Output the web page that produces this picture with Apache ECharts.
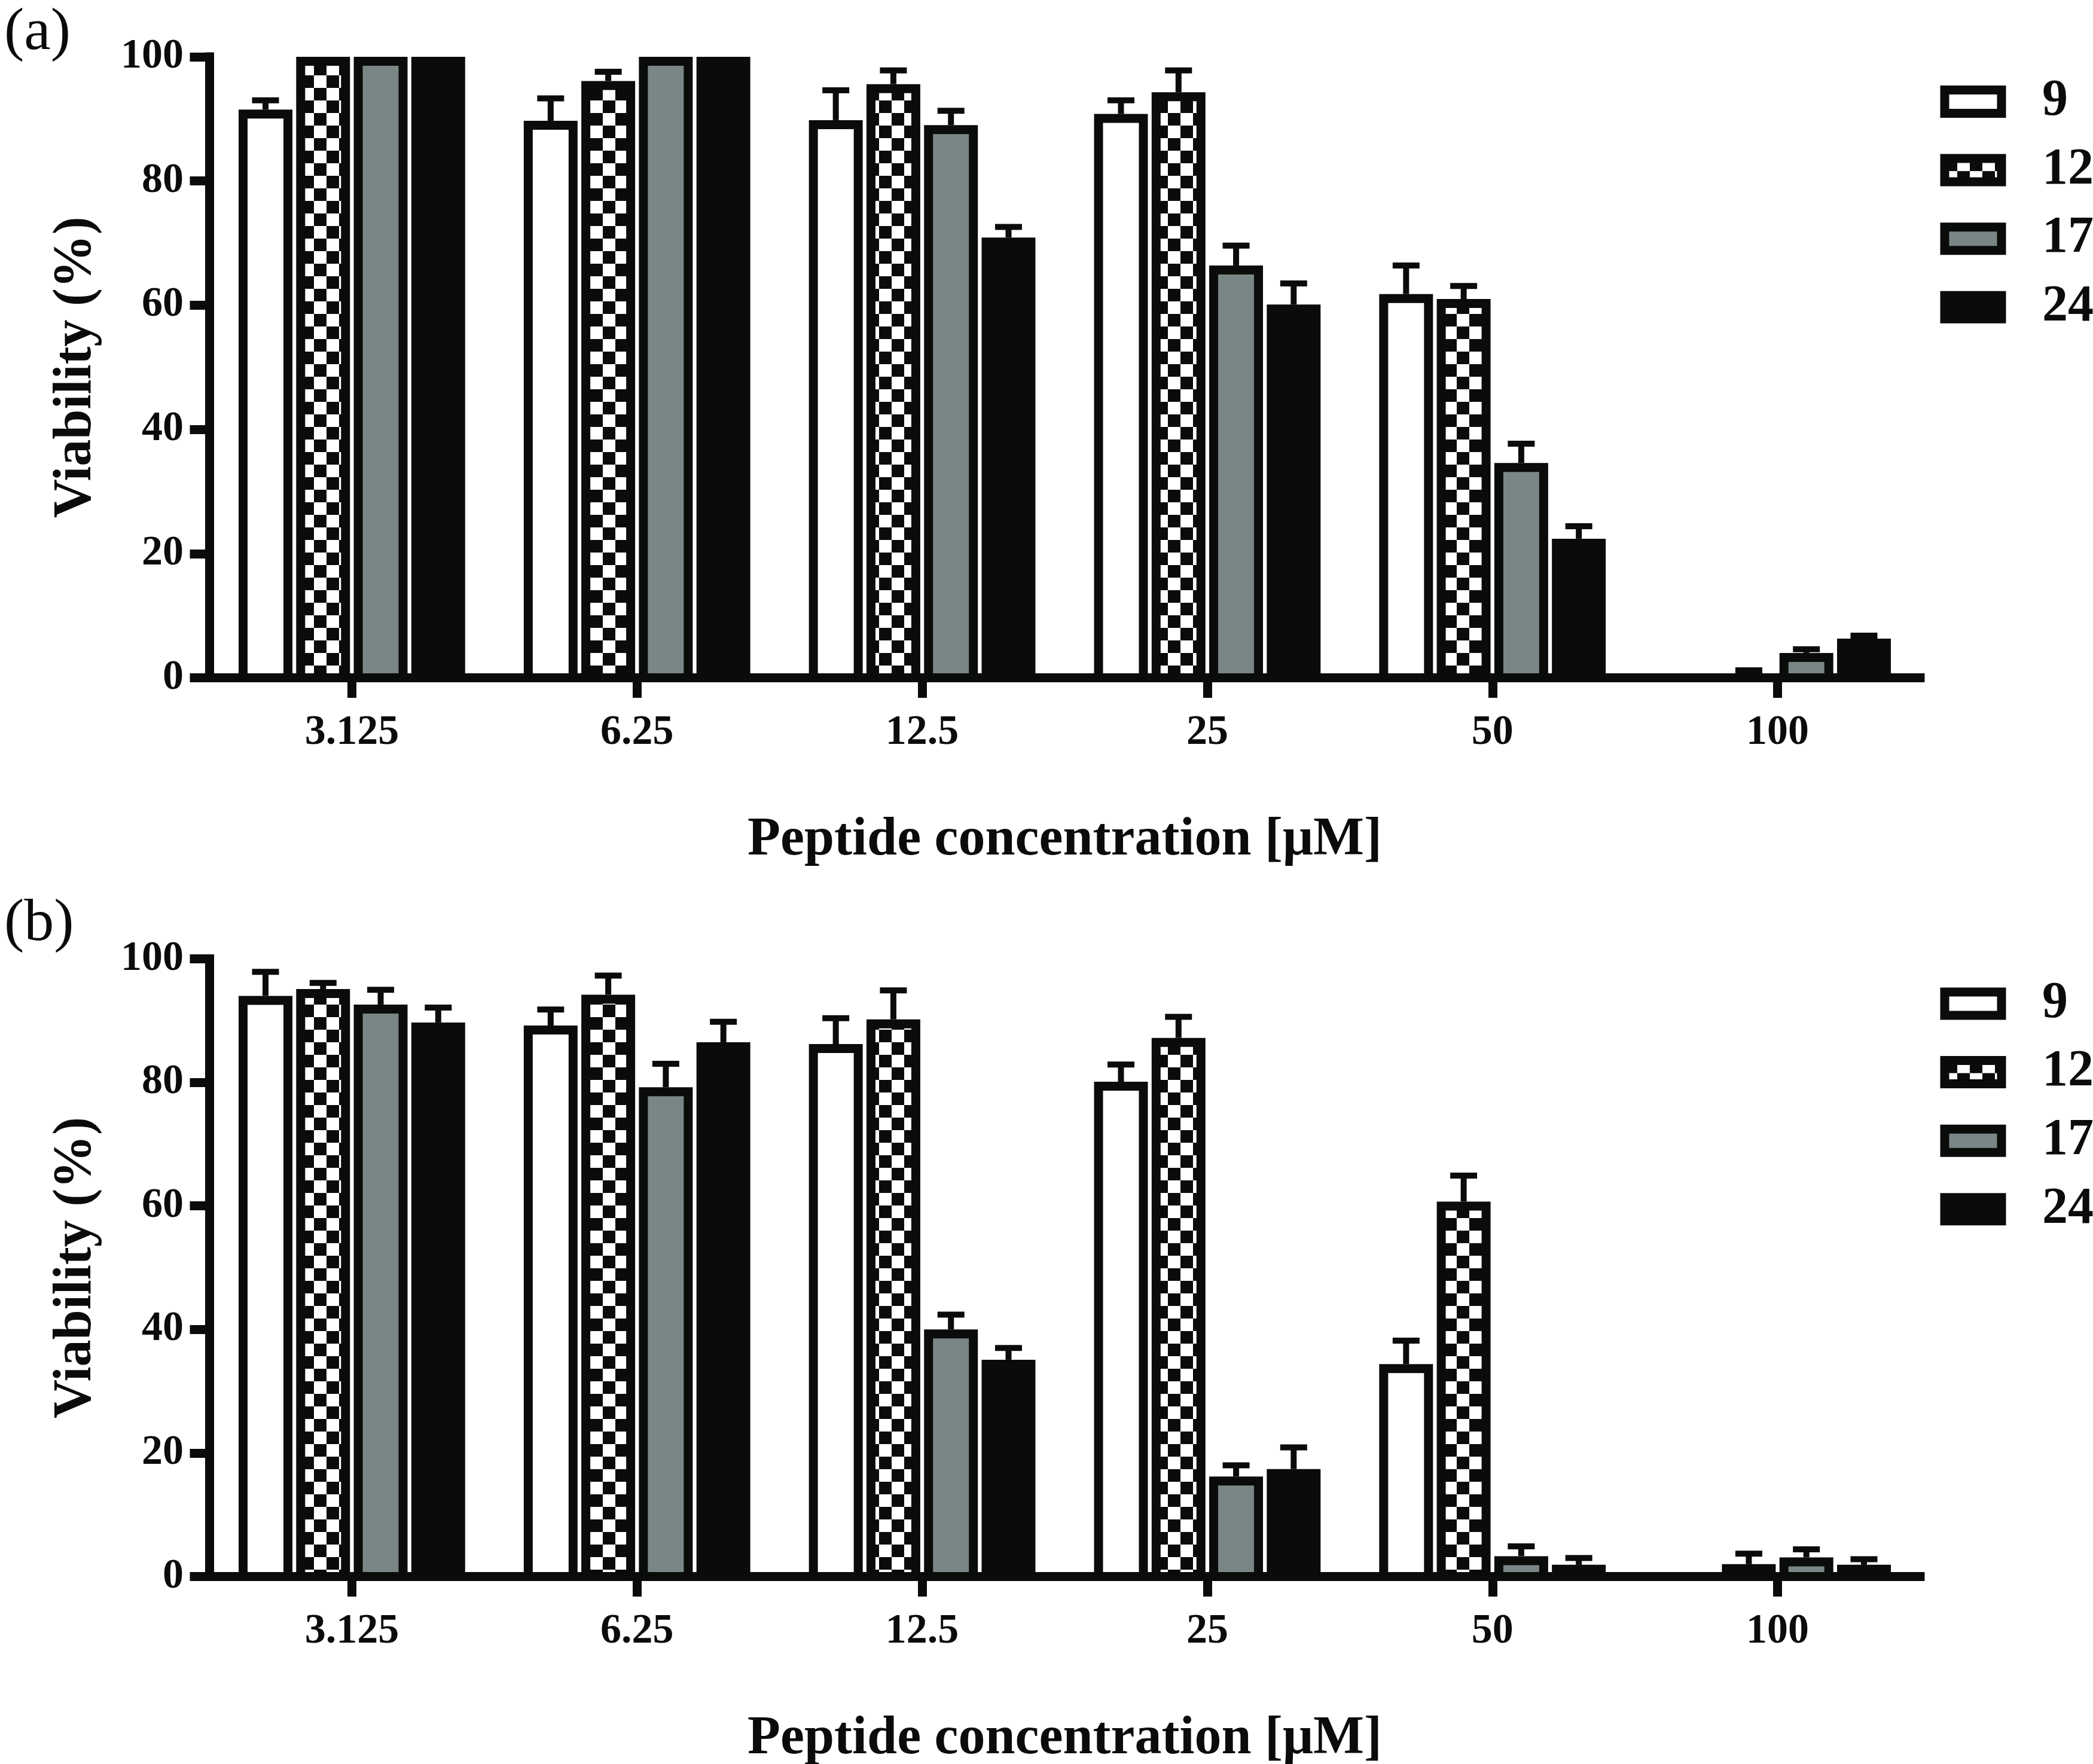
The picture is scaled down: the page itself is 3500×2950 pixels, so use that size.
<!DOCTYPE html>
<html>
<head>
<meta charset="utf-8">
<script src="https://cdn.jsdelivr.net/npm/echarts@6/dist/echarts.min.js"></script>
<style>
html,body{margin:0;padding:0;background:#ffffff;}
#chart{width:3500px;height:2950px;}
</style>
</head>
<body>
<div id="chart"></div>
<script>
// ---------- data ----------
const categories = ['3.125', '6.25', '12.5', '25', '50', '100'];
const seriesNames = ['9', '12', '17', '24'];
const yTickValues = [0, 20, 40, 60, 80, 100];

// panel (a)
const a9 = [91.5, 89.7, 89.8, 90.8, 61.8, 0.3];
const a9Err = [1.5, 3.6, 4.8, 2.2, 4.6, 0];
const a12 = [100, 96.1, 95.6, 94.3, 61.0, 0.5];
const a12Err = [0, 1.5, 2.2, 3.5, 2.1, 0.7];
const a17 = [100, 100, 89.0, 66.4, 34.6, 4.0];
const a17Err = [0, 0, 2.3, 3.2, 3.1, 0.6];
const a24 = [100, 100, 70.9, 60.1, 22.4, 6.3];
const a24Err = [0, 0, 1.7, 3.4, 2.0, 0.5];

// panel (b)
const b9 = [94.0, 89.2, 86.2, 80.1, 34.4, 0.3];
const b9Err = [3.9, 2.6, 4.2, 2.8, 3.8, 0];
const b12 = [95.1, 94.2, 90.2, 87.2, 60.7, 2.0];
const b12Err = [1.0, 3.1, 4.7, 3.4, 4.2, 1.7];
const b17 = [92.6, 79.2, 40.0, 16.2, 3.3, 3.1];
const b17Err = [2.4, 3.8, 2.4, 1.8, 1.6, 1.3];
const b24 = [89.7, 86.5, 35.1, 17.4, 1.9, 1.9];
const b24Err = [2.4, 3.3, 1.9, 3.5, 1.1, 0.9];

// ---------- styles ----------
const BLACK = '#0a0c0a';
const GRAY = '#798685';
const FONT = '"Liberation Serif", "Times New Roman", serif';
const BORDER = 15;          // bar outline
const BAR_W = 0.1887;       // bar outer width as a fraction of the category band
const BAR_PITCH = 0.2019;   // bar-to-bar distance as a fraction of the band
const ERR_W = 10;
const CAP = 45;

function checkerCanvas() {
  const s = 21;
  const c = document.createElement('canvas');
  c.width = 2 * s; c.height = 2 * s;
  const g = c.getContext('2d');
  g.fillStyle = '#ffffff'; g.fillRect(0, 0, 2 * s, 2 * s);
  g.fillStyle = BLACK; g.fillRect(0, 0, s, s); g.fillRect(s, s, s, s);
  return c;
}
const checker = { image: checkerCanvas(), repeat: 'repeat' };
const FILLS = ['#ffffff', checker, GRAY, BLACK];

function makeRender(idx, fill) {
  return function (params, api) {
    const ci = api.value(0), v = api.value(1), e = api.value(2);
    const band = api.size([1, 0])[0];
    const base = api.coord([ci, 0]);
    const top = api.coord([ci, v]);
    const cx = base[0] + (idx - 1.5) * band * BAR_PITCH;
    const w = band * BAR_W;
    const h = base[1] - top[1];
    const children = [{
      type: 'rect',
      shape: { x: cx - w / 2, y: top[1], width: w, height: h },
      style: { fill: BLACK }
    }];
    if (h > BORDER) {
      children.push({
        type: 'rect',
        shape: { x: cx - w / 2 + BORDER, y: top[1] + BORDER, width: w - 2 * BORDER, height: h - BORDER },
        style: { fill: fill }
      });
    }
    if (e > 0) {
      const et = api.coord([ci, v + e]);
      children.push({ type: 'line', shape: { x1: cx, y1: top[1], x2: cx, y2: et[1] },
        style: { stroke: BLACK, lineWidth: ERR_W } });
      children.push({ type: 'line', shape: { x1: cx - CAP / 2, y1: et[1], x2: cx + CAP / 2, y2: et[1] },
        style: { stroke: BLACK, lineWidth: ERR_W } });
    }
    return { type: 'group', children: children };
  };
}

const panels = [
  { vals: [a9, a12, a17, a24], errs: [a9Err, a12Err, a17Err, a24Err], top: 95, height: 1038.5, label: '(a)', labelTop: 6, legendTop: 127 },
  { vals: [b9, b12, b17, b24], errs: [b9Err, b12Err, b17Err, b24Err], top: 1603.5, height: 1033, label: '(b)', labelTop: 1496, legendTop: 1635.5 }
];

const grid = [], xAxis = [], yAxis = [], series = [], legend = [], title = [];
panels.forEach(function (p, pi) {
  grid.push({ left: 350, width: 2861, top: p.top, height: p.height, outerBoundsMode: 'none', containLabel: false });
  xAxis.push({
    type: 'category', gridIndex: pi, data: categories, z: 10,
    axisLine: { show: true, lineStyle: { color: BLACK, width: 15, cap: 'square' } },
    axisTick: { show: true, alignWithLabel: true, length: 33.5, lineStyle: { color: BLACK, width: 15 } },
    axisLabel: { color: BLACK, fontFamily: FONT, fontWeight: 'bold', fontSize: 70, margin: 57 },
    splitLine: { show: false },
    name: 'Peptide concentration [μM]', nameLocation: 'middle', nameGap: 227,
    nameTextStyle: { color: BLACK, fontFamily: FONT, fontWeight: 'bold', fontSize: 90 }
  });
  yAxis.push({
    type: 'value', gridIndex: pi, min: yTickValues[0], max: yTickValues[yTickValues.length - 1], interval: 20, z: 10,
    axisLine: { show: true, lineStyle: { color: BLACK, width: 15, cap: 'square' } },
    axisTick: { show: true, length: 32.5, lineStyle: { color: BLACK, width: 15 } },
    axisLabel: { color: BLACK, fontFamily: FONT, fontWeight: 'bold', fontSize: 70, margin: 43 },
    splitLine: { show: false },
    name: 'Viability (%)', nameLocation: 'middle', nameGap: 177,
    nameTextStyle: { color: BLACK, fontFamily: FONT, fontWeight: 'bold', fontSize: 90 }
  });
  seriesNames.forEach(function (name, si) {
    series.push({
      type: 'custom', name: name, xAxisIndex: pi, yAxisIndex: pi,
      itemStyle: { color: FILLS[si] },
      encode: { x: 0, y: 1 },
      data: categories.map(function (c, ci) { return [ci, p.vals[si][ci], p.errs[si][ci]]; }),
      renderItem: makeRender(si, FILLS[si])
    });
  });
  legend.push({
    orient: 'vertical', left: 3244.5, top: p.legendTop, padding: 0,
    itemWidth: 95, itemHeight: 39, itemGap: 28.6, selectedMode: false,
    textStyle: { color: BLACK, fontFamily: FONT, fontWeight: 'bold', fontSize: 86, padding: [0, 0, 0, 63] },
    data: seriesNames.map(function (n, i) {
      return { name: n, icon: 'rect', itemStyle: { color: FILLS[i], borderColor: BLACK, borderWidth: 15 } };
    })
  });
  title.push({
    text: p.label, left: 7, top: p.labelTop, padding: 0,
    textStyle: { color: BLACK, fontFamily: FONT, fontWeight: 'normal', fontSize: 100 }
  });
});

const chart = echarts.init(document.getElementById('chart'), null, { renderer: 'canvas' });
chart.setOption({
  backgroundColor: '#ffffff',
  animation: false,
  title: title,
  grid: grid,
  xAxis: xAxis,
  yAxis: yAxis,
  legend: legend,
  series: series
});
</script>
</body>
</html>
